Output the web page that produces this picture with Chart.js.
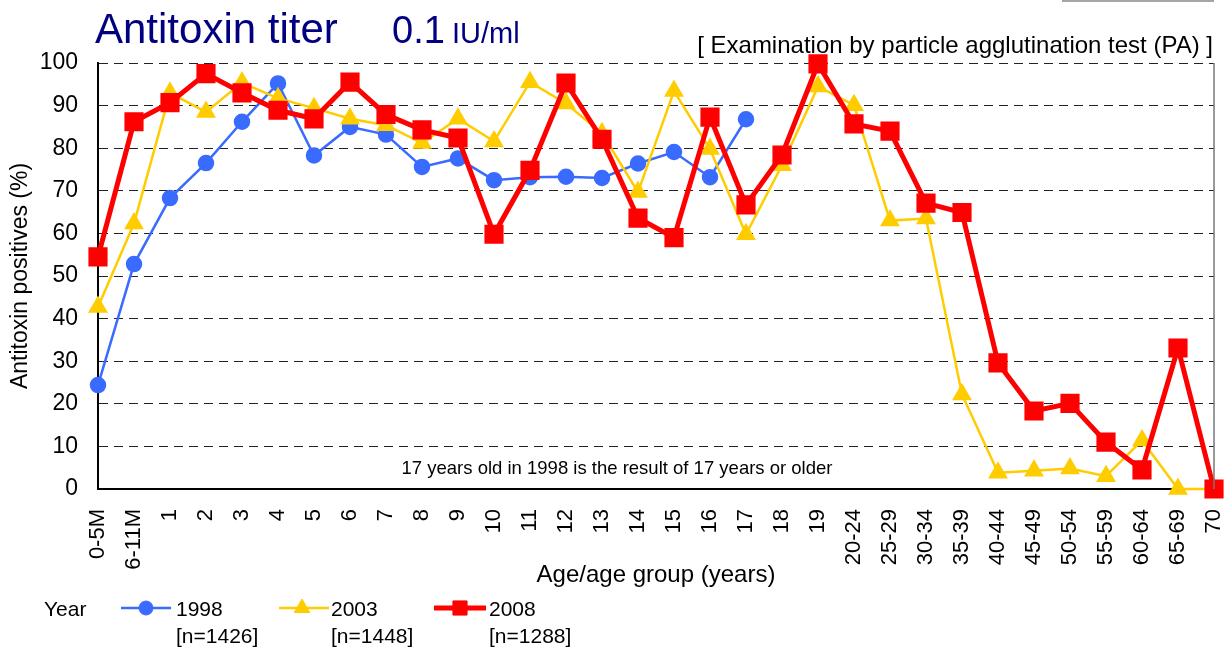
<!DOCTYPE html>
<html>
<head>
<meta charset="utf-8">
<script src="https://cdn.jsdelivr.net/npm/chart.js@4/dist/chart.umd.min.js"></script>
<style>
  html, body { margin: 0; padding: 0; background: #fff; }
</style>
</head>
<body>
<canvas id="chart" width="1230" height="653"></canvas>
<script>
const ages = [
  "0-5M", "6-11M", "1", "2", "3", "4", "5", "6", "7", "8", "9", "10",
  "11", "12", "13", "14", "15", "16", "17", "18", "19",
  "20-24", "25-29", "30-34", "35-39", "40-44", "45-49", "50-54",
  "55-59", "60-64", "65-69", "70",
];

const year1998 = [
  24.4, 52.8, 68.3, 76.5, 86.2, 95.2, 78.3, 85, 83.2, 75.6, 77.6, 72.5,
  73.2, 73.3, 73, 76.4, 79.1, 73.2, 86.8, null, null,
  null, null, null, null, null, null, null, null, null, null, null,
];

const year2003 = [
  42.7, 62.3, 93, 88.5, 95.4, 91.7, 89.4, 86.9, 85.4, 81.2, 86.9, 81.6,
  95.5, 90.5, 83.5, 69.7, 93.4, 79.8, 59.8, 76, 94.5,
  90.1, 63, 63.5, 22.2, 3.8, 4.3, 4.8, 3, 11.4, 0, 0,
];

const year2008 = [
  54.5, 86.2, 90.7, 97.5, 93, 88.9, 86.9, 95.5, 87.9, 84.3, 82.4, 59.8,
  74.8, 95.3, 82.1, 63.6, 59, 87.3, 66.7, 78.4, 99.8,
  85.7, 84, 67.1, 64.9, 29.6, 18.3, 20.1, 11, 4.5, 33.1, 0,
];

const yTicks = [0, 10, 20, 30, 40, 50, 60, 70, 80, 90, 100];
const legendYears = ["1998", "2003", "2008"];
const legendCounts = ["[n=1426]", "[n=1448]", "[n=1288]"];

const FONT = '"Liberation Sans", Arial, sans-serif';
const BLUE = "#3a6bff";
const YELLOW = "#ffcc00";
const RED = "#ff0000";

const decor = {
  id: "decor",
  afterDraw(chart) {
    const { ctx, chartArea } = chart;
    ctx.save();

    // right frame edge
    ctx.strokeStyle = "#777";
    ctx.lineWidth = 1.5;
    ctx.beginPath();
    ctx.moveTo(chartArea.right, chartArea.top);
    ctx.lineTo(chartArea.right, chartArea.bottom);
    ctx.stroke();

    // stray line top right
    ctx.strokeStyle = "#888";
    ctx.lineWidth = 1.5;
    ctx.beginPath();
    ctx.moveTo(1062, 1);
    ctx.lineTo(1214, 1);
    ctx.stroke();

    // title
    ctx.fillStyle = "#000080";
    ctx.textBaseline = "alphabetic";
    ctx.textAlign = "left";
    ctx.font = "42px " + FONT;
    ctx.fillText("Antitoxin titer", 95, 43);
    ctx.font = "38px " + FONT;
    ctx.fillText("0.1", 392, 43);
    ctx.font = "29px " + FONT;
    ctx.fillText("IU/ml", 452, 43);

    ctx.fillStyle = "#000";
    ctx.textBaseline = "middle";
    ctx.textAlign = "right";
    ctx.font = "24px " + FONT;
    ctx.fillText("[ Examination by particle agglutination test (PA) ]", 1213, 46);

    ctx.textAlign = "center";
    ctx.font = "18.5px " + FONT;
    ctx.fillText("17 years old in 1998 is the result of 17 years or older", 617, 469);

    ctx.font = "24px " + FONT;
    ctx.fillText("Age/age group (years)", (chartArea.left + chartArea.right) / 2, 575);

    ctx.font = "23px " + FONT;
    ctx.save();
    ctx.translate(21, (chartArea.top + chartArea.bottom) / 2);
    ctx.rotate(-Math.PI / 2);
    ctx.fillText("Antitoxin positives (%)", 0, 0);
    ctx.restore();

    // legend
    ctx.font = "21px " + FONT;
    ctx.textAlign = "left";
    ctx.fillText("Year", 44, 610);
    const items = [
      { x0: 121, x1: 171, mx: 146, tx: 176, color: BLUE, width: 2.5, style: "circle", r: 7 },
      { x0: 279, x1: 329, mx: 302, tx: 331, color: YELLOW, width: 2.5, style: "triangle", r: 9 },
      { x0: 434, x1: 486, mx: 460, tx: 489, color: RED, width: 5, style: "rect", r: 10 },
    ];
    items.forEach((it, i) => {
      ctx.strokeStyle = it.color;
      ctx.fillStyle = it.color;
      ctx.lineWidth = it.width;
      ctx.beginPath();
      ctx.moveTo(it.x0, 608);
      ctx.lineTo(it.x1, 608);
      ctx.stroke();
      ctx.lineWidth = 1;
      Chart.helpers.drawPoint(ctx, { pointStyle: it.style, radius: it.r, rotation: 0, borderWidth: 1 }, it.mx, 608);
      ctx.fillStyle = "#000";
      ctx.fillText(legendYears[i], it.tx, 610);
      ctx.fillText(legendCounts[i], it.tx, 637);
    });

    ctx.restore();
  },
};

new Chart(document.getElementById("chart").getContext("2d"), {
  type: "line",
  data: {
    labels: ages,
    datasets: [
      {
        label: "1998",
        data: year1998,
        borderColor: BLUE,
        backgroundColor: BLUE,
        borderWidth: 2.5,
        pointStyle: "circle",
        pointRadius: 7,
        order: 3,
        clip: false,
      },
      {
        label: "2003",
        data: year2003,
        borderColor: YELLOW,
        backgroundColor: YELLOW,
        borderWidth: 2.5,
        pointStyle: "triangle",
        pointRadius: 9,
        order: 2,
        clip: false,
      },
      {
        label: "2008",
        data: year2008,
        borderColor: RED,
        backgroundColor: RED,
        borderWidth: 5,
        pointStyle: "rect",
        pointRadius: 10,
        order: 1,
        clip: false,
      },
    ],
  },
  options: {
    responsive: false,
    animation: false,
    devicePixelRatio: 1,
    layout: { padding: { top: 63, right: 16, left: 0, bottom: 0 } },
    plugins: {
      legend: { display: false },
      tooltip: { enabled: false },
    },
    scales: {
      x: {
        offset: false,
        grid: { display: false, drawTicks: false },
        border: { color: "#000", width: 2 },
        ticks: {
          autoSkip: false,
          minRotation: 90,
          maxRotation: 90,
          padding: 20,
          color: "#000",
          font: { family: FONT, size: 22 },
        },
        afterFit(scale) {
          scale.height = 164;
          scale.paddingLeft = 0;
          scale.paddingRight = 0;
        },
      },
      y: {
        min: 0,
        max: 100,
        afterBuildTicks(scale) {
          scale.ticks = yTicks.map((v) => ({ value: v }));
        },
        grid: { color: "#222", lineWidth: 1, drawTicks: false },
        border: { color: "#000", width: 2, dash: [9, 6] },
        ticks: {
          padding: 20,
          color: "#000",
          font: { family: FONT, size: 23 },
        },
        afterFit(scale) {
          scale.width = 98;
          scale.paddingTop = 0;
          scale.paddingBottom = 0;
        },
      },
    },
  },
  plugins: [decor],
});
</script>
</body>
</html>
